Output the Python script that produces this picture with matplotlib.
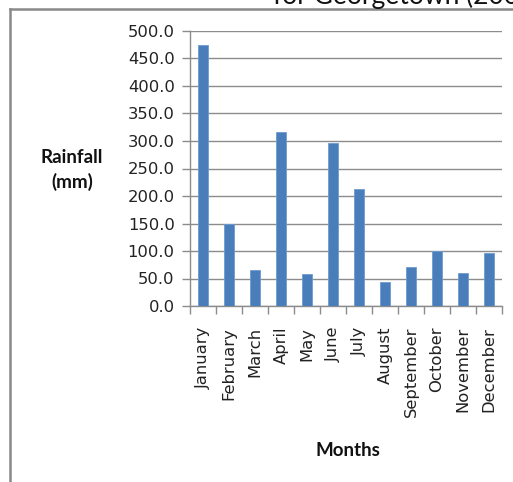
import matplotlib
matplotlib.use("Agg")
import matplotlib.pyplot as plt
from matplotlib.lines import Line2D

months = ["January", "February", "March", "April", "May", "June", "July",
          "August", "September", "October", "November", "December"]
rainfall = [474.5, 149.6, 65.0, 315.8, 57.6, 295.7, 212.7, 44.2, 70.3, 99.4, 59.4, 96.4]
y_ticks = [0, 50, 100, 150, 200, 250, 300, 350, 400, 450, 500]

W, H = 513, 482
DPI = 100
plt.rcParams["font.family"] = ["Lato", "DejaVu Sans"]
tick_font = ["DejaVu Sans"]

fig = plt.figure(figsize=(W / DPI, H / DPI), dpi=DPI)
ax = fig.add_axes([190 / W, 1 - 306 / H, (502 - 190) / W, (306 - 31) / H])

x = range(len(months))
ax.bar(x, rainfall, width=0.37, color="#4a7ebb", edgecolor="#6f9bd1",
       linewidth=0.6, zorder=3)

ax.set_xlim(-0.5, len(months) - 0.5)
ax.set_ylim(0, 500)
ax.set_yticks(y_ticks)
ax.set_yticklabels([f"{v:.1f}" for v in y_ticks], fontsize=11.8,
                   color="#222222", family=tick_font)
ax.yaxis.grid(True, color="#8c8c8c", linewidth=1.0, zorder=0)
ax.tick_params(axis="y", length=6, color="#8c8c8c", width=1.0, pad=5)

# category separators as ticks below the x axis
ax.set_xticks([i - 0.5 for i in range(len(months) + 1)], minor=False)
ax.set_xticklabels([])
ax.set_xticks(list(x), minor=True)
ax.set_xticklabels(months, minor=True, rotation=90, fontsize=11.8,
                   va="top", ha="center", color="#222222", family=tick_font)
ax.tick_params(axis="x", which="major", length=6, color="#8c8c8c", width=1.0)
ax.tick_params(axis="x", which="minor", length=0, pad=15)

for side in ("top", "right"):
    ax.spines[side].set_visible(False)
for side in ("left", "bottom"):
    ax.spines[side].set_color("#8c8c8c")
    ax.spines[side].set_linewidth(1.0)

fig.text(72 / W, 1 - 170 / H, "Rainfall\n(mm)", ha="center", va="center",
         fontsize=13.5, fontweight="bold", linespacing=1.45, color="#111111")
fig.text(348 / W, 1 - 451 / H, "Months", ha="center", va="center",
         fontsize=13.5, fontweight="bold", color="#111111")
fig.text(273 / W, 1 - 4 / H, "for Georgetown (2009)", ha="left",
         va="baseline", fontsize=19, color="#111111")

# chart area frame
fig.add_artist(Line2D([10 / W, 10 / W], [0, 1 - 9 / H], transform=fig.transFigure,
                      color="#898989", linewidth=1.8))
fig.add_artist(Line2D([10 / W, 1.0], [1 - 9 / H, 1 - 9 / H], transform=fig.transFigure,
                      color="#898989", linewidth=1.8))

fig.savefig("out.png", dpi=DPI)
